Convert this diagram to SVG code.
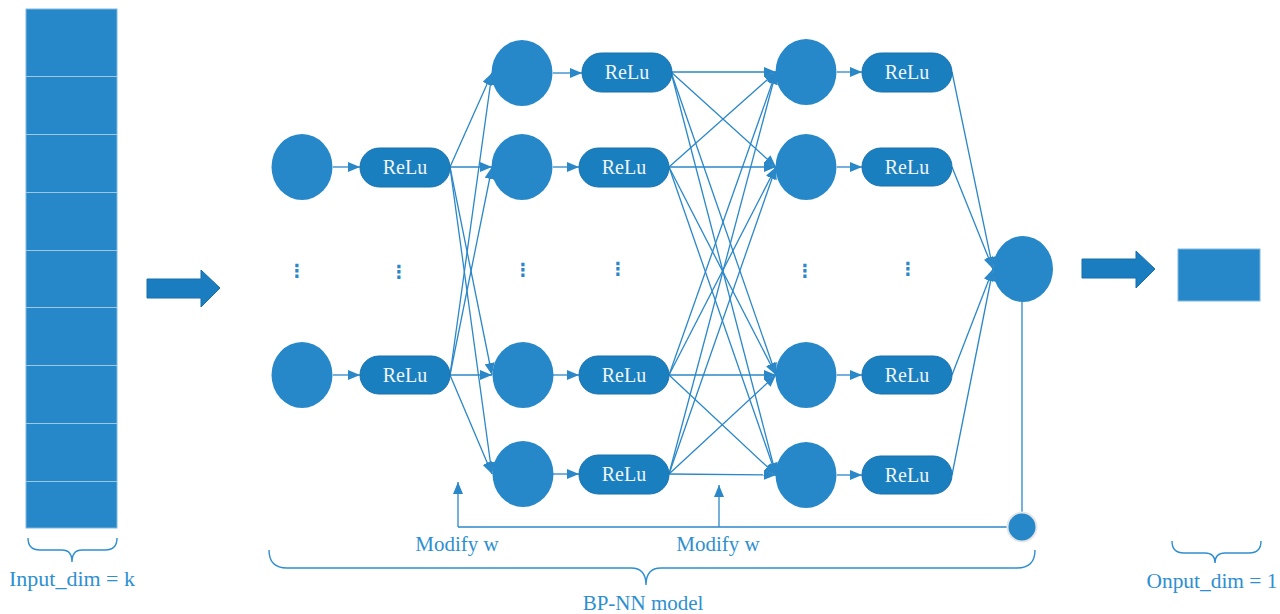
<svg xmlns="http://www.w3.org/2000/svg" width="1280" height="614" viewBox="0 0 1280 614">
<style>
.node{fill:#2688c8;}
.relu rect{fill:#1a7fbf;stroke:#1670ad;stroke-width:1;}
.relu text{fill:#eef4fa;font-family:"Liberation Serif",serif;font-size:20px;text-anchor:middle;}
.lbl{fill:#2e8fd0;font-family:"Liberation Serif",serif;font-size:21px;text-anchor:middle;}
.dots{fill:#2a87c8;font-family:"DejaVu Sans",sans-serif;font-size:18px;font-weight:bold;text-anchor:middle;}
.c line,.c path{stroke:#2a87c8;stroke-width:1.3;fill:none;}
.brace{stroke:#2e8fd0;stroke-width:1.4;fill:none;}
.bigarrow{fill:#1a7dbf;stroke:#166fae;stroke-width:1;}
</style>
<defs>
<marker id="ah" markerUnits="userSpaceOnUse" markerWidth="12" markerHeight="10" refX="12" refY="5" orient="auto">
<path d="M0,0 L12,5 L0,10 z" fill="#2a87c8"/>
</marker>
</defs>

<g id="input">
<rect x="26" y="9" width="91" height="519" fill="#2688c8" stroke="#7fb8e0" stroke-width="1"/>
<g stroke="#9cc8e6" stroke-width="1.2">
<line x1="26" y1="76.5" x2="117" y2="76.5"/>
<line x1="26" y1="134.5" x2="117" y2="134.5"/>
<line x1="26" y1="192.5" x2="117" y2="192.5"/>
<line x1="26" y1="250.5" x2="117" y2="250.5"/>
<line x1="26" y1="307.5" x2="117" y2="307.5"/>
<line x1="26" y1="365.5" x2="117" y2="365.5"/>
<line x1="26" y1="423.5" x2="117" y2="423.5"/>
<line x1="26" y1="481.5" x2="117" y2="481.5"/>
</g>
<path class="brace" d="M28,538 Q28,550 40,550 L62,550 Q72,550 72,562 Q72,550 82,550 L105,550 Q117,550 117,538"/>
<text class="lbl" x="72" y="586" textLength="126" lengthAdjust="spacingAndGlyphs">Input_dim = k</text>
</g>

<g id="arrow-in"><polygon class="bigarrow" points="147,279 201,279 201,270 220,288 201,307 201,298 147,298"/></g>

<g id="connectors" class="c">
<line x1="333" y1="167" x2="360" y2="167" marker-end="url(#ah)"/>
<line x1="333" y1="375" x2="360" y2="375" marker-end="url(#ah)"/>
<line x1="450" y1="167" x2="492" y2="73" marker-end="url(#ah)"/>
<line x1="450" y1="167" x2="492" y2="167" marker-end="url(#ah)"/>
<line x1="450" y1="167" x2="492" y2="375" marker-end="url(#ah)"/>
<line x1="450" y1="167" x2="492" y2="474" marker-end="url(#ah)"/>
<line x1="450" y1="375" x2="492" y2="73" marker-end="url(#ah)"/>
<line x1="450" y1="375" x2="492" y2="167" marker-end="url(#ah)"/>
<line x1="450" y1="375" x2="492" y2="375" marker-end="url(#ah)"/>
<line x1="450" y1="375" x2="492" y2="474" marker-end="url(#ah)"/>
<line x1="553" y1="73" x2="582" y2="73" marker-end="url(#ah)"/>
<line x1="553" y1="167" x2="579" y2="167" marker-end="url(#ah)"/>
<line x1="553" y1="375" x2="579" y2="375" marker-end="url(#ah)"/>
<line x1="553" y1="474" x2="579" y2="474" marker-end="url(#ah)"/>
<line x1="671" y1="72" x2="776" y2="72" marker-end="url(#ah)"/>
<line x1="671" y1="72" x2="776" y2="167" marker-end="url(#ah)"/>
<line x1="671" y1="72" x2="776" y2="375" marker-end="url(#ah)"/>
<line x1="671" y1="72" x2="776" y2="475" marker-end="url(#ah)"/>
<line x1="669" y1="167" x2="776" y2="72" marker-end="url(#ah)"/>
<line x1="669" y1="167" x2="776" y2="167" marker-end="url(#ah)"/>
<line x1="669" y1="167" x2="776" y2="375" marker-end="url(#ah)"/>
<line x1="669" y1="167" x2="776" y2="475" marker-end="url(#ah)"/>
<line x1="669" y1="375" x2="776" y2="72" marker-end="url(#ah)"/>
<line x1="669" y1="375" x2="776" y2="167" marker-end="url(#ah)"/>
<line x1="669" y1="375" x2="776" y2="375" marker-end="url(#ah)"/>
<line x1="669" y1="375" x2="776" y2="475" marker-end="url(#ah)"/>
<line x1="669" y1="474" x2="776" y2="72" marker-end="url(#ah)"/>
<line x1="669" y1="474" x2="776" y2="167" marker-end="url(#ah)"/>
<line x1="669" y1="474" x2="776" y2="375" marker-end="url(#ah)"/>
<line x1="669" y1="474" x2="776" y2="475" marker-end="url(#ah)"/>
<line x1="837" y1="72" x2="862" y2="72" marker-end="url(#ah)"/>
<line x1="837" y1="167" x2="862" y2="167" marker-end="url(#ah)"/>
<line x1="837" y1="375" x2="862" y2="375" marker-end="url(#ah)"/>
<line x1="837" y1="475" x2="862" y2="475" marker-end="url(#ah)"/>
<line x1="952" y1="72" x2="993" y2="269" marker-end="url(#ah)"/>
<line x1="952" y1="167" x2="993" y2="269" marker-end="url(#ah)"/>
<line x1="952" y1="375" x2="993" y2="269" marker-end="url(#ah)"/>
<line x1="952" y1="475" x2="993" y2="269" marker-end="url(#ah)"/>
<line x1="1022" y1="302" x2="1022" y2="527"/>
<line x1="458" y1="527" x2="1008" y2="527"/>
<line x1="458" y1="527" x2="458" y2="482" marker-end="url(#ah)"/>
<line x1="719" y1="527" x2="719" y2="485" marker-end="url(#ah)"/>
</g>

<g id="l1n1"><ellipse class="node" cx="302" cy="167" rx="30.5" ry="33"/></g>
<g id="l1n2"><ellipse class="node" cx="302" cy="375" rx="30.5" ry="33"/></g>
<g id="l1r1" class="relu"><rect x="360" y="148" width="90" height="39" rx="19.5"/><text x="405" y="174">ReLu</text></g>
<g id="l1r2" class="relu"><rect x="360" y="356" width="90" height="38" rx="19"/><text x="405" y="382">ReLu</text></g>

<g id="l2n1"><ellipse class="node" cx="522" cy="73" rx="30.5" ry="33"/></g>
<g id="l2n2"><ellipse class="node" cx="522" cy="167" rx="30.5" ry="33"/></g>
<g id="l2n3"><ellipse class="node" cx="523" cy="375" rx="30.5" ry="33"/></g>
<g id="l2n4"><ellipse class="node" cx="523" cy="474" rx="30.5" ry="33"/></g>
<g id="l2r1" class="relu"><rect x="582" y="53" width="90" height="39" rx="19.5"/><text x="627" y="79">ReLu</text></g>
<g id="l2r2" class="relu"><rect x="579" y="148" width="90" height="39" rx="19.5"/><text x="624" y="174">ReLu</text></g>
<g id="l2r3" class="relu"><rect x="579" y="356" width="90" height="38" rx="19"/><text x="624" y="382">ReLu</text></g>
<g id="l2r4" class="relu"><rect x="579" y="455" width="90" height="39" rx="19.5"/><text x="624" y="481">ReLu</text></g>

<g id="l3n1"><ellipse class="node" cx="806" cy="72" rx="30.5" ry="33"/></g>
<g id="l3n2"><ellipse class="node" cx="806" cy="167" rx="30.5" ry="33"/></g>
<g id="l3n3"><ellipse class="node" cx="806" cy="375" rx="30.5" ry="33"/></g>
<g id="l3n4"><ellipse class="node" cx="806" cy="475" rx="30.5" ry="33"/></g>
<g id="l3r1" class="relu"><rect x="862" y="53" width="90" height="39" rx="19.5"/><text x="907" y="79">ReLu</text></g>
<g id="l3r2" class="relu"><rect x="862" y="148" width="90" height="38" rx="19"/><text x="907" y="174">ReLu</text></g>
<g id="l3r3" class="relu"><rect x="862" y="356" width="90" height="38" rx="19"/><text x="907" y="382">ReLu</text></g>
<g id="l3r4" class="relu"><rect x="862" y="456" width="90" height="38" rx="19"/><text x="907" y="482">ReLu</text></g>

<g id="dots">
<text class="dots" x="297" y="277">⋮</text>
<text class="dots" x="399" y="278">⋮</text>
<text class="dots" x="523" y="276">⋮</text>
<text class="dots" x="618" y="275">⋮</text>
<text class="dots" x="805" y="277">⋮</text>
<text class="dots" x="908" y="275">⋮</text>
</g>

<g id="out-node"><ellipse class="node" cx="1023" cy="269" rx="30" ry="33"/></g>
<g id="err-node"><circle cx="1022" cy="527" r="14.5" fill="#2688c8" stroke="#e6e6e6" stroke-width="2"/></g>

<g id="modify1"><text class="lbl" x="457" y="551">Modify w</text></g>
<g id="modify2"><text class="lbl" x="718" y="551">Modify w</text></g>

<g id="bpnn">
<path class="brace" d="M269,550 Q269,568 287,568 L631,568 Q646,568 646,585 Q646,568 661,568 L1017,568 Q1035,568 1035,550"/>
<text class="lbl" x="643" y="610">BP-NN model</text>
</g>

<g id="arrow-out"><polygon class="bigarrow" points="1082,259 1136,259 1136,251 1155,269 1136,288 1136,278 1082,278"/></g>

<g id="output">
<rect x="1178" y="249" width="82" height="52" fill="#2688c8" stroke="#7fb8e0" stroke-width="1"/>
<path class="brace" d="M1172,541 Q1172,553 1184,553 L1205,553 Q1215,553 1215,563 Q1215,553 1225,553 L1249,553 Q1261,553 1261,541"/>
<text class="lbl" x="1212" y="588" textLength="131" lengthAdjust="spacingAndGlyphs">Onput_dim = 1</text>
</g>
</svg>
